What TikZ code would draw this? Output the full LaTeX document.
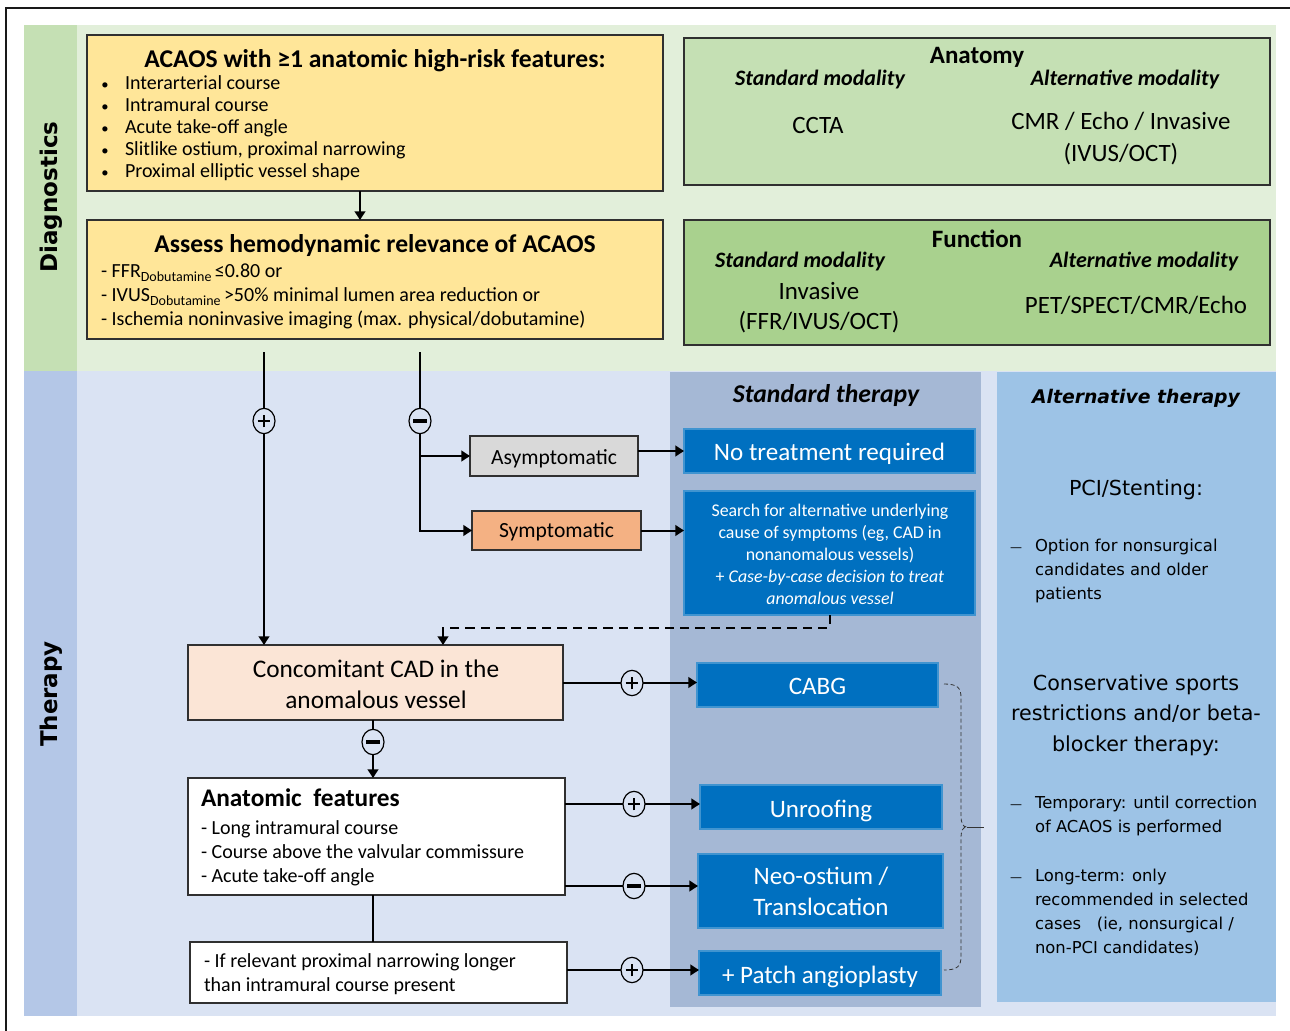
\documentclass[tikz,border=0pt]{standalone}
\usepackage{fontspec}
\setmainfont{Carlito}
\newfontfamily\dv{DejaVu Sans}
\usetikzlibrary{fit,arrows.meta,shapes.geometric}
\definecolor{diagbg}{HTML}{E2EFDA}
\definecolor{diaglab}{HTML}{C5E0B4}
\definecolor{therbg}{HTML}{DAE3F3}
\definecolor{therlab}{HTML}{B4C7E7}
\definecolor{stdcol}{HTML}{A5B8D5}
\definecolor{altcol}{HTML}{9DC3E6}
\definecolor{yel}{HTML}{FFE699}
\definecolor{cAnat}{HTML}{C5E0B4}
\definecolor{cFunc}{HTML}{A9D18E}
\definecolor{bluebox}{HTML}{0070C0}
\definecolor{cAsym}{HTML}{D9D9D9}
\definecolor{cSym}{HTML}{F4B183}
\definecolor{cConc}{HTML}{FBE5D6}
\definecolor{frame}{HTML}{303030}
\newcommand\fz[2]{\fontsize{#1pt}{#2pt}\selectfont}
\newcommand\plussign[1]{\draw[line width=2pt] ([xshift=-4.8pt]#1.center) -- ([xshift=4.8pt]#1.center); \draw[line width=2pt] ([yshift=-4.8pt]#1.center) -- ([yshift=4.8pt]#1.center);}
\newcommand\minussign[1]{\draw[line width=2.4pt] ([xshift=-5.2pt]#1.center) -- ([xshift=5.2pt]#1.center);}
\begin{document}
\begin{tikzpicture}[x=0.75pt,y=-0.75pt,
  every node/.style={inner sep=0pt, outer sep=0pt},
  frm/.style={draw=frame, line width=1.1pt},
  ybox/.style={frm, fill=yel},
  bbox/.style={fill=bluebox, draw=bluebox!75!white, line width=0.8pt},
  arr/.style={line width=1.5pt, -{Triangle[length=6.5pt,width=8pt]}},
  ln/.style={line width=1.5pt},
  dsh/.style={dash pattern=on 7pt off 4.5pt},
  pm/.style={ellipse, draw=black, line width=0.9pt, fill=therbg, minimum width=16.5pt, minimum height=19pt},
  tnorm/.style={font=\fz{15}{18}},
  ttitle/.style={font=\bfseries\fz{19.2}{22}},
  tmodh/.style={font=\bfseries\itshape\fz{16.5}{20}},
  tmod/.style={font=\fz{18.7}{24}, align=center},
  tblue/.style={text=white, font=\fz{18.8}{23.25}, align=center},
  talt/.style={font=\dv\fz{12.3}{18}},
  taltd/.style={font=\dv\fz{9}{12}},
  taltb/.style={font=\dv\fz{15.5}{22.9}, align=center}]
\useasboundingbox (0,0) rectangle (1290,1031);
\fill[white] (0,0) rectangle (1290,1031);
% bands
\fill[diagbg] (24,25) rectangle (1276,371);
\fill[diaglab] (24,25) rectangle (77,371);
\fill[therbg] (24,371) rectangle (1276,1016);
\fill[therlab] (24,371) rectangle (77,1016);
\fill[stdcol] (670,372) rectangle (981,1007);
\fill[altcol] (997,372) rectangle (1276,1002);
\draw[line width=1.5pt, draw=black!90] (6,1031) -- (6,8) -- (1290,8);
\node[rotate=90, font=\dv\bfseries\fz{17.25}{20}] (ldiag) at (51,197) {Diagnostics};
\node[rotate=90, font=\dv\bfseries\fz{17.25}{20}] (lther) at (51,694) {Therapy};
% boxes
\node[ybox, fit={(87,35)(663,191)}] (b1) {};
\node[ybox, fit={(87,220)(663,339)}] (b2) {};
\node[frm, fill=cAnat, fit={(684,38)(1270,185)}] (anat) {};
\node[frm, fill=cFunc, fit={(684,220)(1270,345)}] (func) {};
\node[frm, fill=cAsym, fit={(470,436)(638,476)}] (asym) {};
\node[frm, fill=cSym, fit={(472,511)(641,550)}] (sym) {};
\node[bbox, fit={(684,429)(975,473)}] (notreat) {};
\node[bbox, fit={(684,491)(975,615)}] (search) {};
\node[frm, fill=cConc, fit={(188,645)(563,720)}] (conc) {};
\node[bbox, fit={(697,663)(938,707)}] (cabg) {};
\node[frm, fill=white, fit={(188,778)(565,895)}] (anatf) {};
\node[bbox, fit={(700,785)(942,829)}] (unroof) {};
\node[bbox, fit={(698,854)(943,928)}] (neo) {};
\node[frm, fill=white, fit={(190,942)(567,1003)}] (last) {};
\node[bbox, fit={(699,951)(941,995)}] (patch) {};
\begin{scope}[every node/.append style={yshift=-2.25pt}]
% box 1 text
\node[ttitle] (b1title) at (375,58) {ACAOS with ≥1 anatomic high-risk features:};
\foreach \t [count=\i] in {Interarterial course, Intramural course, Acute take-off angle, {Slitlike ostium, proximal narrowing}, Proximal elliptic vessel shape}{
  \node[font=\fz{11}{12}, anchor=mid] (b1d\i) at (105,61+22*\i) {•};
  \node[tnorm, anchor=mid west] (b1t\i) at (125,61+22*\i) {\t};
}
% box 2 text
\node[ttitle] (b2title) at (375,243) {Assess hemodynamic relevance of ACAOS};
\node[tnorm, anchor=mid west] (b2t1) at (101,271) {- FFR\raisebox{-0.45ex}{\fz{10.5}{12}Dobutamine}\,≤0.80 or};
\node[tnorm, anchor=mid west] (b2t2) at (101,295) {- IVUS\raisebox{-0.45ex}{\fz{10.5}{12}Dobutamine}\,>50\% minimal lumen area reduction or};
\node[tnorm, anchor=mid west] (b2t3) at (101,319) {- Ischemia noninvasive imaging (max. physical/dobutamine)};
% anatomy
\node[font=\bfseries\fz{18.75}{22}] (anath) at (977,54) {Anatomy};
\node[tmodh] (anats) at (820,77) {Standard modality};
\node[tmodh] (anata) at (1125,77) {Alternative modality};
\node[tmod, yshift=2.25pt] (anatv1) at (818,125) {CCTA};
\node[tmod] (anatv2) at (1121,136) {CMR / Echo / Invasive\\(IVUS/OCT)};
% function
\node[font=\bfseries\fz{18.75}{22}] (funch) at (977,236) {Function};
\node[tmodh] (funcs) at (800,259) {Standard modality};
\node[tmodh] (funca) at (1144,259) {Alternative modality};
\node[tmod, font=\fz{18.7}{22.5}, yshift=1.5pt] (funcv1) at (819,307) {Invasive\\(FFR/IVUS/OCT)};
\node[tmod, yshift=1pt] (funcv2) at (1136,304) {PET/SPECT/CMR/Echo};
% therapy headers
\node[font=\bfseries\itshape\fz{19.25}{22}, yshift=1pt] (stdh) at (826,394) {Standard therapy};
\node[font=\dv\bfseries\itshape\fz{14.1}{18}] (alth) at (1136,395) {Alternative therapy};
% therapy texts
\node[font=\fz{16.2}{20}] (asymt) at (asym.center) {Asymptomatic};
\node[font=\fz{16.2}{20}, yshift=1pt] (symt) at (sym.center) {Symptomatic};
\node[tblue] (notreatt) at (notreat.center) {No treatment required};
\node[text=white, font=\fz{13.4}{16.5}, align=center, yshift=1.5pt] (searcht) at (830,553) {Search for alternative underlying\\cause of symptoms (eg, CAD in\\nonanomalous vessels)\\+ \textit{Case-by-case decision to treat}\\\textit{anomalous vessel}};
\node[font=\fz{19}{23.25}, align=center, yshift=2.25pt] (conct) at (376,684) {Concomitant CAD in the\\anomalous vessel};
\node[tblue, yshift=1.5pt] (cabgt) at (cabg.center) {CABG};
\node[font=\bfseries\fz{19}{22}, anchor=mid west] (anatft) at (201,800) {Anatomic\ \ features};
\foreach \t [count=\i] in {- Long intramural course, - Course above the valvular commissure, - Acute take-off angle}{
  \node[tnorm, anchor=mid west] (anatf\i) at (201,804+24*\i) {\t};
}
\node[tblue] (unrooft) at (821,808) {Unroofing};
\node[tblue, yshift=2.25pt] (neot) at (821,891) {Neo-ostium /\\Translocation};
\node[tnorm, anchor=mid west] (last1) at (204,961) {- If relevant proximal narrowing longer};
\node[tnorm, anchor=mid west] (last2) at (204,985) {than intramural course present};
\node[tblue] (patcht) at (820,974) {+ Patch angioplasty};
% alternative column
\node[taltb] (pci) at (1136,487) {PCI/Stenting:};
\node[taltd, anchor=mid] (pcid) at (1016,545) {—};
\foreach \t [count=\i] in {Option for nonsurgical, candidates and older, patients}{
  \node[talt, anchor=mid west] (pci\i) at (1035,521+24*\i) {\t};
}
\node[taltb, yshift=1pt] (cons) at (1136,713.5) {Conservative sports\\restrictions and/or beta-\\blocker therapy:};
\node[taltd, anchor=mid] (temd) at (1016,802) {—};
\node[talt, anchor=mid west] (tem1) at (1035,802) {Temporary: until correction};
\node[talt, anchor=mid west] (tem2) at (1035,826) {of ACAOS is performed};
\node[taltd, anchor=mid] (lngd) at (1016,875) {—};
\foreach \t [count=\i] in {Long-term: only, recommended in selected, {cases\ \ \ (ie, nonsurgical /}, non-PCI candidates)}{
  \node[talt, anchor=mid west] (lng\i) at (1035,851+24*\i) {\t};
}
\end{scope}
% connectors
\coordinate (x360) at (360,0);
\coordinate (x373) at (373,0);
\coordinate (p0) at (264,352);
\coordinate (m0) at (420,352);
\coordinate (d1) at (443,628);
\coordinate (y804) at (0,804);
\coordinate (y886) at (0,886);
\coordinate (y970) at (0,970);
\draw[arr] (b1.south -| x360) -- (b2.north -| x360);
\draw[arr] (p0) -- (p0 |- conc.north);
\draw[arr] (m0) |- (sym.west);
\draw[arr] (m0 |- asym.west) -- (asym.west);
\draw[arr] (notreat.west -| asym.east) -- (notreat.west);
\draw[arr] (sym.east) -- (sym.east -| search.west);
\draw[arr, dsh] (search.south) |- (d1) -- (d1 |- conc.north);
\draw[arr] (conc.east) -- (conc.east -| cabg.west);
\draw[arr] (conc.south -| x373) -- (anatf.north -| x373);
\draw[arr] (anatf.east |- y804) -- (unroof.west |- y804);
\draw[arr] (anatf.east |- y886) -- (neo.west |- y886);
\draw[ln] (anatf.south -| x373) -- (last.north -| x373);
\draw[arr] (last.east |- y970) -- (patch.west |- y970);
% brace
\draw[densely dashed, line width=0.6pt, draw=black!80] (944,684) .. controls (958,684) and (961,688) .. (961,698) -- (961,815) .. controls (961,824) and (963,827) .. (967,827) .. controls (963,827) and (961,830) .. (961,839) -- (961,956) .. controls (961,966) and (958,970) .. (944,970);
\draw[line width=0.6pt, draw=black!80] (967,827) -- (984,827);
% plus / minus
\node[pm] (cp1) at (264,421) {}; \plussign{cp1}
\node[pm] (cm1) at (420,421) {}; \minussign{cm1}
\node[pm] (cp2) at (632,683) {}; \plussign{cp2}
\node[pm] (cm2) at (373,742) {}; \minussign{cm2}
\node[pm] (cp3) at (634,804) {}; \plussign{cp3}
\node[pm] (cm3) at (634,886) {}; \minussign{cm3}
\node[pm] (cp4) at (632,970) {}; \plussign{cp4}
\end{tikzpicture}
\end{document}
